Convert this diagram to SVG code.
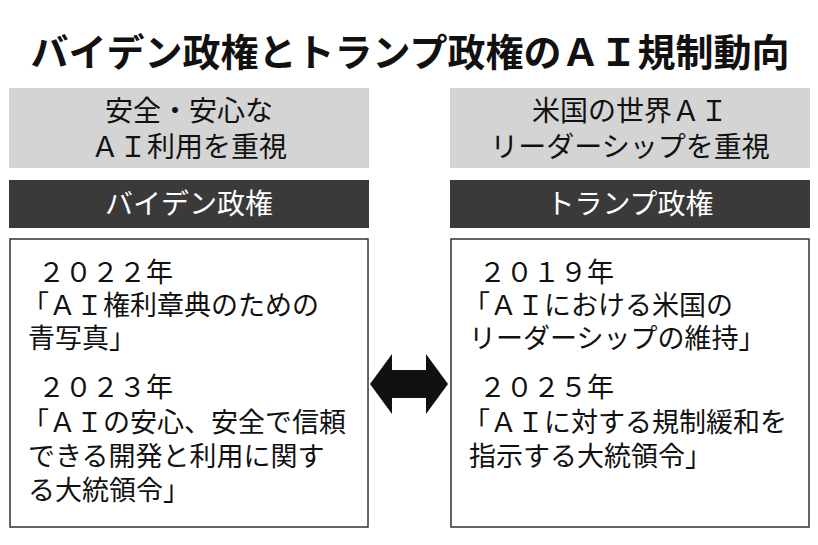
<svg xmlns="http://www.w3.org/2000/svg" width="818" height="545" viewBox="0 0 818 545">
<style>
text{font-family:"Noto Sans CJK JP","Noto Sans",sans-serif;fill:#111}
.t{font-size:38px;font-weight:bold}
.h{font-size:28px;text-anchor:middle}
.d{font-size:28px;text-anchor:middle;fill:#fff}
.b{font-size:27px}
.g{fill:#d4d4d4}
.k{fill:#3a3a3a}
.w{fill:#fff;stroke:#333;stroke-width:1.5}
</style>
<rect width="818" height="545" fill="#fff"/>
<text class="t" x="410" y="66" text-anchor="middle">バイデン政権とトランプ政権のＡＩ規制動向</text>
<g id="left-goal"><rect class="g" x="9" y="88" width="360" height="80"/><text class="h" x="189" y="121">安全・安心な</text><text class="h" x="189" y="157">ＡＩ利用を重視</text></g>
<g id="right-goal"><rect class="g" x="450" y="88" width="360" height="80"/><text class="h" x="630" y="121">米国の世界ＡＩ</text><text class="h" x="630" y="157">リーダーシップを重視</text></g>
<g id="biden"><rect class="k" x="9" y="180" width="360" height="48"/><text class="d" x="189" y="214">バイデン政権</text></g>
<g id="trump"><rect class="k" x="450" y="180" width="360" height="48"/><text class="d" x="630" y="214">トランプ政権</text></g>
<g id="left-body"><rect class="w" x="10" y="239" width="358" height="288"/>
<text class="b" x="38" y="282">２０２２年</text>
<text class="b" x="22" y="315">「ＡＩ権利章典のための</text>
<text class="b" x="28" y="348">青写真」</text>
<text class="b" x="38" y="397">２０２３年</text>
<text class="b" x="22" y="432">「ＡＩの安心、安全で信頼</text>
<text class="b" x="28" y="466">できる開発と利用に関す</text>
<text class="b" x="28" y="500">る大統領令」</text></g>
<g id="right-body"><rect class="w" x="451" y="239" width="358" height="288"/>
<text class="b" x="479" y="282">２０１９年</text>
<text class="b" x="463" y="315">「ＡＩにおける米国の</text>
<text class="b" x="469" y="348">リーダーシップの維持」</text>
<text class="b" x="479" y="397">２０２５年</text>
<text class="b" x="463" y="432">「ＡＩに対する規制緩和を</text>
<text class="b" x="469" y="466">指示する大統領令」</text></g>
<g id="connectors"><polygon fill="#111" points="370,384 392,354 392,370 426,370 426,354 448,384 426,414 426,398 392,398 392,414"/></g>
</svg>
